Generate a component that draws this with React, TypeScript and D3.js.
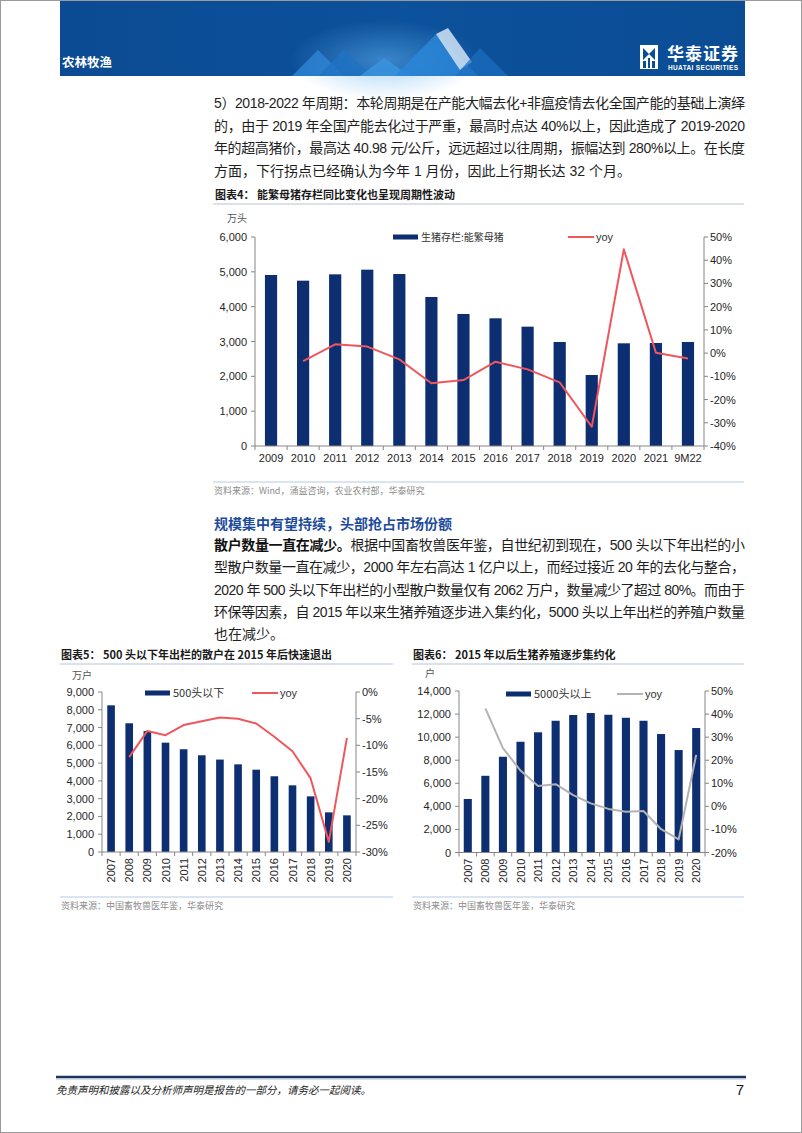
import React from 'react';
import * as d3 from 'd3';

const W = 802;
const H = 1133;
const NUM = "'Liberation Sans', Arial, 'Noto Sans CJK SC', sans-serif";
const CJK = "'Noto Sans CJK SC', 'Liberation Sans', sans-serif";

// ---------- Chart 4 data ----------
const c4Categories = ['2009', '2010', '2011', '2012', '2013', '2014', '2015', '2016', '2017', '2018', '2019', '2020', '2021', '9M22'];
const c4Sows = [4910, 4746, 4928, 5062, 4938, 4278, 3790, 3666, 3426, 2986, 2038, 2948, 2957, 2986];
const c4Yoy = [null, -3.5, 3.8, 2.8, -2.7, -13.0, -11.6, -3.7, -7.0, -12.6, -31.7, 44.7, 0.2, -2.3];
const c4LeftTicks = [0, 1000, 2000, 3000, 4000, 5000, 6000];
const c4RightTicks = [-40, -30, -20, -10, 0, 10, 20, 30, 40, 50];

// ---------- Chart 5 data ----------
const c5Categories = ['2007', '2008', '2009', '2010', '2011', '2012', '2013', '2014', '2015', '2016', '2017', '2018', '2019', '2020'];
const c5Small = [8250, 7240, 6800, 6150, 5780, 5440, 5200, 4930, 4630, 4260, 3750, 3130, 2230, 2062];
const c5Yoy = [null, -12.2, -7.3, -8.1, -6.2, -5.5, -4.8, -5.0, -5.9, -8.4, -11.1, -16.2, -28.1, -8.6];
const c5LeftTicks = [0, 1000, 2000, 3000, 4000, 5000, 6000, 7000, 8000, 9000];
const c5RightTicks = [-30, -25, -20, -15, -10, -5, 0];

// ---------- Chart 6 data ----------
const c6Categories = ['2007', '2008', '2009', '2010', '2011', '2012', '2013', '2014', '2015', '2016', '2017', '2018', '2019', '2020'];
const c6Large = [4640, 6650, 8300, 9600, 10420, 11420, 11920, 12090, 11940, 11680, 11420, 10270, 8880, 10790];
const c6Yoy = [null, 42.5, 25.2, 15.5, 8.8, 9.6, 4.9, 1.3, -1.1, -2.3, -2.0, -9.9, -14.3, 22.3];
const c6LeftTicks = [0, 2000, 4000, 6000, 8000, 10000, 12000, 14000];
const c6RightTicks = [-20, -10, 0, 10, 20, 30, 40, 50];

const para1 = [
  '5）2018-2022 年周期：本轮周期是在产能大幅去化+非瘟疫情去化全国产能的基础上演绎',
  '的，由于 2019 年全国产能去化过于严重，最高时点达 40%以上，因此造成了 2019-2020',
  '年的超高猪价，最高达 40.98 元/公斤，远远超过以往周期，振幅达到 280%以上。在长度',
  '方面，下行拐点已经确认为今年 1 月份，因此上行期长达 32 个月。',
];
const para2Head = '规模集中有望持续，头部抢占市场份额';
const para2Bold = '散户数量一直在减少。';
const para2 = [
  '根据中国畜牧兽医年鉴，自世纪初到现在，500 头以下年出栏的小',
  '型散户数量一直在减少，2000 年左右高达 1 亿户以上，而经过接近 20 年的去化与整合，',
  '2020 年 500 头以下年出栏的小型散户数量仅有 2062 万户，数量减少了超过 80%。而由于',
  '环保等因素，自 2015 年以来生猪养殖逐步进入集约化，5000 头以上年出栏的养殖户数量',
  '也在减少。',
];

const BAR = '#0d2f72';
const AXIS = '#868686';
const TXT = '#262626';

type Cfg = {
  x0: number; x1: number; y0: number; y1: number;
  cats: string[]; bars: number[]; yoy: (number | null)[];
  leftTicks: number[]; rightTicks: number[];
  leftFmt: (v: number) => string; rightFmt: (v: number) => string;
  barRatio: number; lineColor: string; rotate: boolean;
  title: string; titleX: number; titleY: number; ruleX0: number; ruleX1: number;
  unit: string; unitX: number; unitY: number;
  legBarX: number; legBarLabel: string; legLineX: number; legY: number; legFont: number;
  sourceY: number; source: string;
};

function DualChart({ c }: { c: Cfg }) {
  const x = d3.scaleBand<string>().domain(c.cats).range([c.x0, c.x1]).paddingInner(0).paddingOuter(0);
  const yL = d3.scaleLinear().domain([c.leftTicks[0], c.leftTicks[c.leftTicks.length - 1]]).range([c.y1, c.y0]);
  const yR = d3.scaleLinear().domain([c.rightTicks[0], c.rightTicks[c.rightTicks.length - 1]]).range([c.y1, c.y0]);
  const bw = x.bandwidth() * c.barRatio;
  const pts = c.cats.map((k, i) => ({ k, v: c.yoy[i] })).filter((d) => d.v !== null) as { k: string; v: number }[];
  const line = d3.line<{ k: string; v: number }>().x((d) => (x(d.k) as number) + x.bandwidth() / 2).y((d) => yR(d.v));
  const bounds = d3.range(c.cats.length + 1).map((i) => c.x0 + i * x.bandwidth());
  return (
    <g>
      <text x={c.titleX} y={c.titleY} fontFamily={CJK} fontWeight={700} fontSize={11} fill="#1a1a1a">{c.title}</text>
      <line x1={c.ruleX0} x2={c.ruleX1} y1={c.titleY + 5} y2={c.titleY + 5} stroke="#b7c4d8" strokeWidth={1.2} />
      <text x={c.unitX} y={c.unitY} fontFamily={CJK} fontSize={10} fill="#555">{c.unit}</text>
      {/* bars */}
      {c.cats.map((k, i) => (
        <rect key={k} x={(x(k) as number) + (x.bandwidth() - bw) / 2} y={yL(c.bars[i])} width={bw} height={c.y1 - yL(c.bars[i])} fill={BAR} />
      ))}
      {/* axes */}
      <line x1={c.x0} x2={c.x0} y1={c.y0} y2={c.y1} stroke={AXIS} />
      <line x1={c.x1} x2={c.x1} y1={c.y0} y2={c.y1} stroke={AXIS} />
      <line x1={c.x0} x2={c.x1} y1={c.y1} y2={c.y1} stroke={AXIS} />
      {c.leftTicks.map((t) => (
        <g key={'l' + t}>
          <line x1={c.x0 - 4} x2={c.x0} y1={yL(t)} y2={yL(t)} stroke={AXIS} />
          <text x={c.x0 - 8} y={yL(t) + 4} textAnchor="end" fontFamily={NUM} fontSize={11} fill={TXT}>{c.leftFmt(t)}</text>
        </g>
      ))}
      {c.rightTicks.map((t) => (
        <g key={'r' + t}>
          <line x1={c.x1} x2={c.x1 + 4} y1={yR(t)} y2={yR(t)} stroke={AXIS} />
          <text x={c.x1 + 6} y={yR(t) + 4} textAnchor="start" fontFamily={NUM} fontSize={11} fill={TXT}>{c.rightFmt(t)}</text>
        </g>
      ))}
      {bounds.map((b, i) => (
        <line key={'b' + i} x1={b} x2={b} y1={c.y1} y2={c.y1 + 4} stroke={AXIS} />
      ))}
      {c.cats.map((k) => {
        const cx = (x(k) as number) + x.bandwidth() / 2;
        return c.rotate ? (
          <text key={'x' + k} transform={`translate(${cx + 4},${c.y1 + 6}) rotate(-90)`} textAnchor="end" fontFamily={NUM} fontSize={11} fill={TXT}>{k}</text>
        ) : (
          <text key={'x' + k} x={cx} y={c.y1 + 16} textAnchor="middle" fontFamily={NUM} fontSize={11} fill={TXT}>{k}</text>
        );
      })}
      {/* line */}
      <path d={line(pts) || ''} fill="none" stroke={c.lineColor} strokeWidth={2} strokeLinejoin="round" />
      {/* legend */}
      <rect x={c.legBarX} y={c.legY - 2.5} width={25} height={5} fill={BAR} />
      <text x={c.legBarX + 28} y={c.legY + 4} fontFamily={CJK} fontSize={c.legFont} fill="#333">{c.legBarLabel}</text>
      <line x1={c.legLineX} x2={c.legLineX + 26} y1={c.legY} y2={c.legY} stroke={c.lineColor} strokeWidth={2} />
      <text x={c.legLineX + 28} y={c.legY + 4} fontFamily={NUM} fontSize={11} fill="#333">yoy</text>
      {/* source */}
      <line x1={c.ruleX0} x2={c.ruleX1} y1={c.sourceY} y2={c.sourceY} stroke="#b7cbe2" strokeWidth={1.2} />
      <text x={c.ruleX0 + 1} y={c.sourceY + 12} fontFamily={CJK} fontSize={9} fill="#8c8c8c">{c.source}</text>
    </g>
  );
}

const fmtThousands = d3.format(',');
const fmtPct = (v: number) => `${v}%`;

export default function App() {
  const cfg4: Cfg = {
    x0: 255, x1: 704, y0: 237, y1: 446,
    cats: c4Categories, bars: c4Sows, yoy: c4Yoy,
    leftTicks: c4LeftTicks, rightTicks: c4RightTicks,
    leftFmt: fmtThousands, rightFmt: fmtPct,
    barRatio: 0.38, lineColor: '#f0575c', rotate: false,
    title: '图表4：  能繁母猪存栏同比变化也呈现周期性波动', titleX: 215, titleY: 199, ruleX0: 213, ruleX1: 744,
    unit: '万头', unitX: 227, unitY: 222,
    legBarX: 393, legBarLabel: '生猪存栏:能繁母猪', legLineX: 568, legY: 237, legFont: 10,
    sourceY: 482, source: '资料来源：Wind，涌益咨询，农业农村部，华泰研究',
  };
  const cfg5: Cfg = {
    x0: 102, x1: 356, y0: 692, y1: 852,
    cats: c5Categories, bars: c5Small, yoy: c5Yoy,
    leftTicks: c5LeftTicks, rightTicks: c5RightTicks,
    leftFmt: fmtThousands, rightFmt: fmtPct,
    barRatio: 0.42, lineColor: '#f0575c', rotate: true,
    title: '图表5：  500 头以下年出栏的散户在 2015 年后快速退出', titleX: 61, titleY: 659, ruleX0: 60, ruleX1: 393,
    unit: '万户', unitX: 72, unitY: 679,
    legBarX: 145, legBarLabel: '500头以下', legLineX: 252, legY: 693, legFont: 11,
    sourceY: 897, source: '资料来源：中国畜牧兽医年鉴，华泰研究',
  };
  const cfg6: Cfg = {
    x0: 459, x1: 705, y0: 691, y1: 852.5,
    cats: c6Categories, bars: c6Large, yoy: c6Yoy,
    leftTicks: c6LeftTicks, rightTicks: c6RightTicks,
    leftFmt: fmtThousands, rightFmt: fmtPct,
    barRatio: 0.46, lineColor: '#b3b3b3', rotate: true,
    title: '图表6：  2015 年以后生猪养殖逐步集约化', titleX: 413, titleY: 659, ruleX0: 412, ruleX1: 744,
    unit: '户', unitX: 425, unitY: 677,
    legBarX: 506, legBarLabel: '5000头以上', legLineX: 617, legY: 694, legFont: 11,
    sourceY: 897, source: '资料来源：中国畜牧兽医年鉴，华泰研究',
  };

  const bodyX = 214;
  const bodyW = 531;
  const p1Y = [108, 130.5, 153, 175.5];
  const p2Y = [550, 572, 594.5, 617, 639];

  return (
    <div style={{ position: 'absolute', left: 0, top: 0 }}>
      <svg width={W} height={H} viewBox={`0 0 ${W} ${H}`} style={{ display: 'block', background: '#fff' }}>
        <defs>
          <linearGradient id="ban" x1="0" x2="1" y1="0" y2="0">
            <stop offset="0" stopColor="#0b4b93" />
            <stop offset="0.5" stopColor="#0c519b" />
            <stop offset="1" stopColor="#0b4d95" />
          </linearGradient>
          <radialGradient id="glow" cx="0.5" cy="0.5" r="0.5">
            <stop offset="0" stopColor="#5fb0f0" stopOpacity="0.55" />
            <stop offset="1" stopColor="#5fb0f0" stopOpacity="0" />
          </radialGradient>
        </defs>
        <rect x={0.5} y={0.5} width={W - 1} height={H - 1} fill="#fff" stroke="#9a9a9a" />
        {/* header banner */}
        <rect x={60} y={1} width={685} height={75} fill="url(#ban)" />
        <ellipse cx={385} cy={60} rx={95} ry={40} fill="url(#glow)" />
        <polygon points="292,76 318,50 344,76" fill="#2f86d6" opacity={0.8} />
        <polygon points="318,76 344,50 372,76" fill="#1f73c4" opacity={0.8} />
        <polygon points="360,76 384,58 410,76" fill="#3a93de" opacity={0.85} />
        <polygon points="395,76 436,34 478,76" fill="#2c86d8" opacity={0.85} />
        <polygon points="436,34 448,28 472,62 460,70" fill="#c8dcef" opacity={0.9} />
        <polygon points="455,76 480,48 508,76" fill="#1d6fc0" opacity={0.7} />
        <text x={62} y={67} fontFamily={CJK} fontWeight={700} fontSize={12.5} fill="#fff">农林牧渔</text>
        {/* logo */}
        <g>
          <rect x={640} y={45} width={18} height={24} fill="#fff" />
          <polygon points="643,48 649,54 643,60" fill="#0b4d95" />
          <polygon points="655,48 649,54 655,60" fill="#0b4d95" />
          <rect x={643} y={61} width={3} height={7} fill="#0b4d95" />
          <rect x={648} y={58} width={2} height={10} fill="#0b4d95" />
          <rect x={652} y={61} width={3} height={7} fill="#0b4d95" />
          <text x={667} y={60} fontFamily={CJK} fontWeight={700} fontSize={17} fill="#fff" textLength={71} lengthAdjust="spacing">华泰证券</text>
          <text x={668} y={70} fontFamily={NUM} fontWeight={700} fontSize={6.5} fill="#fff" textLength={70} lengthAdjust="spacing">HUATAI SECURITIES</text>
        </g>

        {/* paragraph 1 */}
        {para1.map((s, i) => (
          <text key={'p1' + i} x={bodyX} y={p1Y[i]} fontFamily={NUM} fontSize={14} fill="#1e1e1e"
            {...(i < para1.length - 1 ? { textLength: bodyW, lengthAdjust: 'spacing' } : {})}>{s}</text>
        ))}

        {/* chart 4 */}
        <DualChart c={cfg4} />

        {/* paragraph 2 */}
        <text x={bodyX} y={529} fontFamily={CJK} fontWeight={700} fontSize={14} fill="#1d4b9b">{para2Head}</text>
        <text x={bodyX} y={p2Y[0]} fontFamily={NUM} fontSize={14} fill="#1e1e1e" textLength={bodyW} lengthAdjust="spacing">
          <tspan fontWeight={700} fontFamily={CJK} fill="#111">{para2Bold}</tspan>
          <tspan>{para2[0]}</tspan>
        </text>
        {para2.slice(1).map((s, i) => (
          <text key={'p2' + i} x={bodyX} y={p2Y[i + 1]} fontFamily={NUM} fontSize={14} fill="#1e1e1e"
            {...(i + 1 < para2.length - 1 ? { textLength: bodyW, lengthAdjust: 'spacing' } : {})}>{s}</text>
        ))}

        {/* charts 5 & 6 */}
        <DualChart c={cfg5} />
        <DualChart c={cfg6} />

        {/* footer */}
        <line x1={56} x2={746} y1={1077} y2={1077} stroke="#1c355f" strokeWidth={2.5} />
        <line x1={56} x2={746} y1={1079} y2={1079} stroke="#9fb4d2" strokeWidth={0.8} />
        <text x={56} y={1094} fontFamily={CJK} fontStyle="italic" fontSize={10.5} fill="#1a1a1a">免责声明和披露以及分析师声明是报告的一部分，请务必一起阅读。</text>
        <text x={744} y={1095} textAnchor="end" fontFamily={NUM} fontSize={15} fill="#1a1a1a">7</text>
      </svg>
    </div>
  );
}
